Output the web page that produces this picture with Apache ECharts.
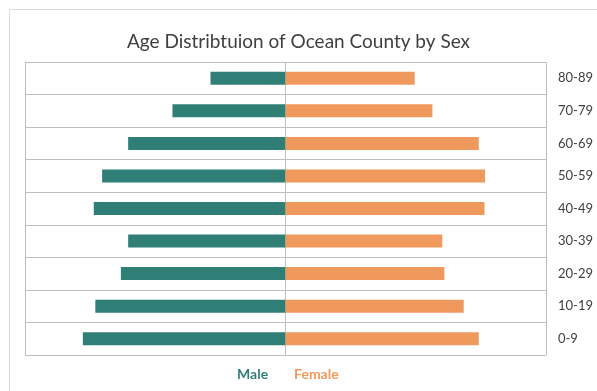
<!DOCTYPE html>
<html>
<head>
<meta charset="utf-8">
<script src="https://cdn.jsdelivr.net/npm/echarts@6/dist/echarts.min.js"></script>
<style>
  html, body { margin: 0; padding: 0; background: #fff; }
  #chart { width: 597px; height: 391px; }
</style>
</head>
<body>
<div id="chart"></div>
<script>
// Age groups, bottom to top
const ageGroups = ['0-9', '10-19', '20-29', '30-39', '40-49', '50-59', '60-69', '70-79', '80-89'];
// Population by age group (thousands)
const maleValues = [38.9, 36.5, 31.6, 30.2, 36.8, 35.2, 30.2, 21.7, 14.4];
const femaleValues = [37.1, 34.2, 30.5, 30.1, 38.2, 38.3, 37.1, 28.2, 24.8];

const maleColor = '#2f7f77';
const femaleColor = '#f0995c';
const gridColor = '#bfbfbf';

const chart = echarts.init(document.getElementById('chart'));
chart.setOption({
  animation: false,
  graphic: [{
    type: 'rect',
    shape: { x: 9.5, y: 9.5, width: 700, height: 500 },
    style: { fill: 'none', stroke: '#d9d9d9', lineWidth: 1 },
    silent: true,
    z: -10
  }],
  title: {
    text: 'Age Distribtuion of Ocean County by Sex',
    left: 'center',
    top: 27,
    textStyle: { fontFamily: 'Lato', fontSize: 19, fontWeight: 'normal', color: '#404040' }
  },
  legend: {
    bottom: 5,
    left: 227,
    itemWidth: 0,
    itemHeight: 0,
    itemGap: 21,
    selectedMode: false,
    data: [
      { name: 'Male', textStyle: { color: maleColor } },
      { name: 'Female', textStyle: { color: femaleColor } }
    ],
    textStyle: { fontFamily: 'Lato', fontSize: 14, fontWeight: 'bold', padding: 0 }
  },
  grid: { left: 25, right: 51, top: 62, bottom: 36, containLabel: false },
  xAxis: {
    type: 'value',
    min: -50,
    max: 50,
    interval: 50,
    axisLabel: { show: false },
    axisLine: { show: false },
    axisTick: { show: false },
    splitLine: { show: true, lineStyle: { color: gridColor, width: 1 } }
  },
  yAxis: {
    type: 'category',
    data: ageGroups,
    position: 'right',
    axisLine: { show: false },
    axisTick: { show: false },
    axisLabel: { margin: 12, fontFamily: 'Lato', fontSize: 13, color: '#404040' },
    splitLine: { show: true, lineStyle: { color: gridColor, width: 1 } }
  },
  series: [
    {
      name: 'Male',
      type: 'bar',
      data: maleValues.map(v => -v),
      barWidth: 13,
      barGap: '-100%',
      itemStyle: { color: maleColor }
    },
    {
      name: 'Female',
      type: 'bar',
      data: femaleValues,
      barWidth: 13,
      barGap: '-100%',
      itemStyle: { color: femaleColor }
    }
  ]
});
</script>
</body>
</html>
